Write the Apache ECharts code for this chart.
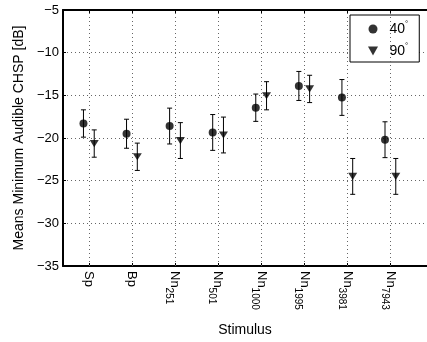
<!DOCTYPE html>
<html>
<head>
<meta charset="utf-8">
<script src="https://cdn.jsdelivr.net/npm/echarts@6/dist/echarts.min.js"></script>
<style>html,body{margin:0;padding:0;background:#fff;}#c{width:427px;height:342px;}</style>
</head>
<body>
<div id="c"></div>
<script>
// ---- data ----
var categories = ['Sp', 'Bp', 'Nn', 'Nn', 'Nn', 'Nn', 'Nn', 'Nn'];
var subscripts = ['', '', '251', '501', '1000', '1995', '3981', '7943'];
var seriesNames = ['40', '90'];
var mean40 = [-18.3, -19.5, -18.6, -19.35, -16.45, -13.9, -15.25, -20.2];
var err40  = [1.6, 1.7, 2.1, 2.1, 1.6, 1.7, 2.1, 2.1];
var mean90 = [-20.65, -22.2, -20.3, -19.65, -15.05, -14.25, -24.5, -24.5];
var err90  = [1.6, 1.6, 2.1, 2.1, 1.65, 1.6, 2.1, 2.1];
var yTicks = [-35, -30, -25, -20, -15, -10, -5];

var FONT = '"Liberation Sans", Arial, Helvetica, sans-serif';
var OFF = 0.125;
var catPos = categories.map(function (c, i) { return i + 1; });

function pts(mean, off) { return mean.map(function (v, i) { return [catPos[i] + off, v]; }); }
function errs(mean, err, off) { return mean.map(function (v, i) { return [catPos[i] + off, v - err[i], v + err[i]]; }); }

function errRender(params, api) {
  var x = api.value(0);
  var lo = api.coord([x, api.value(1)]);
  var hi = api.coord([x, api.value(2)]);
  var cw = 2.5;
  var st = { stroke: '#000', lineWidth: 1 };
  return {
    type: 'group',
    children: [
      { type: 'line', shape: { x1: lo[0], y1: lo[1], x2: hi[0], y2: hi[1] }, style: st },
      { type: 'line', shape: { x1: lo[0] - cw, y1: lo[1], x2: lo[0] + cw, y2: lo[1] }, style: st },
      { type: 'line', shape: { x1: hi[0] - cw, y1: hi[1], x2: hi[0] + cw, y2: hi[1] }, style: st }
    ]
  };
}

var triPath = 'path://M0,0 L10,0 L5,9 Z';
var gridLine = { type: [1, 3], color: '#666', width: 1 };

var chart = echarts.init(document.getElementById('c'), null, { renderer: 'canvas' });
chart.setOption({
  animation: false,
  backgroundColor: '#fff',
  textStyle: { fontFamily: FONT, color: '#000' },
  grid: { left: 63, top: 10, width: 365, height: 260 },
  legend: {
    data: seriesNames,
    orient: 'vertical',
    left: 350, top: 15,
    backgroundColor: '#fff',
    borderColor: '#000', borderWidth: 1,
    padding: [5, 11, 4, 18],
    itemWidth: 23, itemHeight: 9, itemGap: 6,
    formatter: function (n) { return '{a|' + n + '}{d|°}'; },
    textStyle: {
      fontFamily: FONT, color: '#000',
      rich: {
        a: { fontSize: 14, fontFamily: FONT, color: '#000' },
        d: { fontSize: 8, fontFamily: FONT, color: '#000', padding: [0, 0, 10, 0] }
      }
    }
  },
  xAxis: [{
    type: 'value', min: 0.4, max: 8.85,
    position: 'bottom',
    name: 'Stimulus', nameLocation: 'middle', nameGap: 57,
    nameTextStyle: { fontFamily: FONT, fontSize: 14, color: '#000' },
    axisLine: { show: true, onZero: false, lineStyle: { color: '#000', width: 2 } },
    axisTick: { show: true, inside: true, length: 3, customValues: catPos, lineStyle: { color: '#000' } },
    axisLabel: {
      show: true, rotate: -90, margin: 5, customValues: catPos,
      fontFamily: FONT, fontSize: 13, color: '#000',
      formatter: function (v) {
        var i = Math.round(v) - 1;
        if (i < 0 || i >= categories.length) return '';
        return subscripts[i] ? categories[i] + '{s|' + subscripts[i] + '}' : categories[i];
      },
      rich: { s: { fontSize: 10, fontFamily: FONT, color: '#000', padding: [12, 0, 0, 0] } }
    },
    splitLine: { show: false }
  }, {
    type: 'value', min: 0.4, max: 8.85, position: 'top',
    axisLine: { show: true, onZero: false, lineStyle: { color: '#000', width: 2 } },
    axisTick: { show: true, inside: true, length: 3, customValues: catPos, lineStyle: { color: '#000' } },
    axisLabel: { show: false },
    splitLine: { show: false }
  }],
  yAxis: {
    type: 'value', min: yTicks[0], max: yTicks[yTicks.length - 1], interval: 5,
    name: 'Means Minimum Audible CHSP [dB]', nameLocation: 'middle', nameGap: 36,
    nameTextStyle: { fontFamily: FONT, fontSize: 14, color: '#000' },
    axisLine: { show: true, onZero: false, lineStyle: { color: '#000', width: 2 } },
    axisTick: { show: true, inside: true, length: 3, lineStyle: { color: '#000' } },
    axisLabel: {
      margin: 4, fontFamily: FONT, fontSize: 13, color: '#000',
      formatter: function (v) { return String(v).replace('-', '\u2212'); }
    },
    splitLine: { show: true, lineStyle: gridLine }
  },
  series: [
    {
      name: '40', type: 'scatter', data: pts(mean40, -OFF),
      symbol: 'circle', symbolSize: 8, z: 5,
      itemStyle: { color: '#000' },
      markLine: {
        silent: true, symbol: ['none', 'none'], label: { show: false },
        lineStyle: gridLine, animation: false,
        data: catPos.map(function (p) { return { xAxis: p }; })
      }
    },
    {
      name: '90', type: 'scatter', data: pts(mean90, OFF),
      symbol: triPath, symbolSize: [9, 8], symbolKeepAspect: true, z: 5,
      itemStyle: { color: '#000' }
    },
    {
      name: 'err40', type: 'custom', renderItem: errRender, data: errs(mean40, err40, -OFF),
      encode: { x: 0, y: [1, 2] }, z: 4
    },
    {
      name: 'err90', type: 'custom', renderItem: errRender, data: errs(mean90, err90, OFF),
      encode: { x: 0, y: [1, 2] }, z: 4
    }
  ]
});
</script>
</body>
</html>
